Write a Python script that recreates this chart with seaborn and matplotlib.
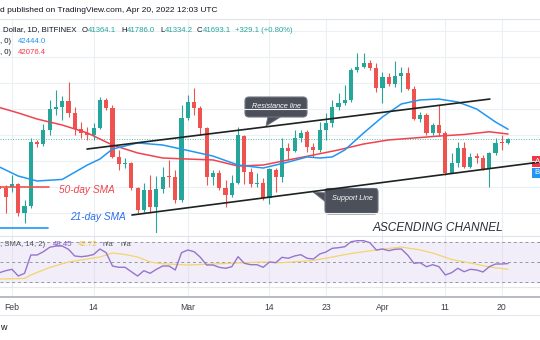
import numpy as np
import pandas as pd
import matplotlib
matplotlib.use("Agg")
import matplotlib.pyplot as plt
import seaborn as sns
from matplotlib import transforms
from matplotlib.patches import FancyBboxPatch, Polygon, Rectangle
from matplotlib.lines import Line2D

# ---------------- data (BTC/USD daily, Bitfinex) ----------------
# bar index: 1 = Feb 1 ... 29 = Mar 1 ... 60 = Apr 1 ... 80 = last bar
days = list(range(-1, 81))
opens = [38070, 37920, 37990, 38230, 36000, 36530, 41460, 41310, 42390, 44000,
         44160, 44620, 43700, 42460, 42160, 42000, 42540, 44700, 44080, 40310,
         39770, 39850, 37920, 36230, 37770, 36460, 37840, 38840, 38770, 37000,
         43310, 44540, 44080, 42540, 38770, 39080, 37920, 37380, 38310, 41920,
         39150, 38230, 38310, 37150, 39310, 38770, 41000, 40770, 41770, 42230,
         41080, 40850, 42390, 42930, 44160, 44470, 44700, 47010, 47240, 47550,
         47160, 45620, 46470, 45930, 46540, 46780, 45540, 43230, 43540, 42160,
         42770, 42160, 39080, 39850, 41000, 39540, 40380, 40230, 39380, 40620,
         41460, 41364.1]
highs = [38380, 38150, 38920, 38310, 37000, 41770, 41620, 42850, 44700, 45470,
         45000, 46080, 44160, 43000, 42620, 42930, 44930, 44850, 44310, 40850,
         40230, 39920, 38000, 38310, 38920, 38840, 39540, 40080, 39310, 44310,
         45080, 45620, 44230, 42620, 39310, 39310, 38540, 38920, 42620, 42000,
         39460, 39080, 38690, 39460, 39460, 41770, 41390, 42390, 42390, 42390,
         41390, 43000, 43700, 44700, 45240, 45850, 47160, 48320, 48320, 47780,
         47550, 46850, 46780, 47700, 47240, 47240, 45770, 43770, 43700, 42930,
         44310, 42310, 40620, 41460, 41460, 40620, 40620, 40460, 40690, 41770,
         42000, 41786.0]
lows = [37380, 36000, 37610, 35760, 35230, 36380, 41080, 41150, 42000, 43540,
        43160, 43390, 42000, 41770, 41620, 41620, 42460, 43930, 40230, 39310,
        39460, 37770, 36000, 36070, 36000, 34460, 37540, 38000, 36770, 36840,
        43160, 43540, 42000, 38150, 38150, 37770, 36460, 37230, 38230, 38230,
        38000, 38000, 37000, 36690, 37610, 38380, 40080, 40690, 41460, 40690,
        40310, 40690, 41620, 42620, 43930, 44310, 44540, 46850, 47160, 47010,
        45310, 44470, 45770, 45700, 45310, 45470, 43160, 43000, 42000, 42000,
        41920, 38920, 39080, 39540, 39460, 39460, 39850, 39310, 38000, 40460,
        40850, 41334.2]
closes = [37840, 37230, 38230, 36000, 36530, 41460, 41310, 42390, 44000, 44160,
          44620, 43700, 42460, 42160, 42000, 42540, 44700, 44080, 40310, 39770,
          39850, 37920, 36230, 37770, 36460, 37840, 38770, 38770, 37000, 43310,
          44540, 44080, 42540, 38770, 39080, 37920, 37380, 38310, 42000, 39150,
          38230, 38310, 37150, 39380, 38770, 41000, 40770, 41770, 42160, 41080,
          40850, 42390, 42930, 44160, 44470, 44700, 47010, 47240, 47550, 47160,
          45620, 46470, 45930, 46540, 46780, 45540, 43230, 43540, 42160, 42770,
          42160, 39080, 39850, 41000, 39540, 40310, 40230, 39380, 40620, 41390,
          41364.1, 41693.1]
last_close = 41693.1

# moving averages, read at selected bars
sma21_days = [-1, 2, 5, 9, 13, 15, 17, 21, 25, 29, 33, 37, 41, 45, 48, 50, 52,
              54, 57, 60, 63, 66, 69, 72, 75, 78, 80]
sma21 = [39540, 38840, 38460, 38580, 39690, 40150, 40920, 41390, 41230, 40810,
         40380, 39690, 39460, 39920, 40310, 40230, 40310, 40850, 42160, 43390,
         44390, 44700, 44770, 44540, 44000, 43000, 42444.0]
sma50_days = [-1, 2, 5, 9, 13, 17, 21, 25, 29, 33, 37, 41, 45, 49, 53, 57, 61,
              65, 69, 73, 77, 80]
sma50 = [44120, 43700, 43230, 42770, 42160, 41230, 40620, 40230, 40150, 40080,
         39610, 39690, 40080, 40460, 40850, 41310, 41620, 41770, 41920, 42040,
         42250, 42076.4]

# RSI (14) per bar and its SMA (14)
rsi = [39.3, 41.3, 42.7, 36.0, 38.7, 57.0, 57.0, 60.3, 64.7, 66.0, 66.0, 62.7,
       56.0, 55.3, 56.0, 57.5, 63.0, 59.3, 46.0, 44.7, 44.7, 40.3, 36.0, 41.3,
       38.7, 42.7, 46.0, 46.0, 42.0, 59.3, 62.0, 60.3, 54.7, 47.0, 47.0, 44.7,
       43.7, 45.3, 55.3, 48.7, 47.3, 47.3, 44.7, 50.0, 49.3, 54.7, 53.7, 56.0,
       57.3, 53.7, 53.0, 58.0, 60.0, 63.7, 64.3, 65.3, 70.3, 71.3, 71.3, 69.3,
       62.0, 63.0, 61.3, 62.7, 63.0, 57.0, 48.7, 49.3, 45.3, 47.3, 45.3, 37.0,
       39.3, 43.7, 40.3, 42.7, 42.0, 40.0, 45.3, 48.0, 48.0, 48.45]
rsi_sma_days = [-1, 3, 4, 7, 10, 13, 15, 17, 19, 21, 23, 25, 29, 33, 37, 41,
                44, 49, 55, 59, 63, 66, 68, 71, 74, 77, 80]
rsi_sma = [33.0, 33.5, 37.0, 44.5, 50.0, 53.0, 55.0, 59.0, 57.5, 55.0, 50.0,
           48.2, 47.0, 48.0, 49.0, 50.0, 49.3, 51.5, 58.5, 62.0, 65.0, 62.0,
           59.0, 52.5, 49.0, 45.0, 42.72]

# drawn channel (bar index, price)
res_days, res_price = [12.95, 77.1], [40920, 44770]
sup_days, sup_price = [20.1, 85.1], [35840, 39920]

tick_days = [1, 14, 29, 42, 51, 60, 70, 79]
tick_labels = ["Feb", "14", "Mar", "14", "23", "Apr", "11", "20"]

# ---------------- figure ----------------
sns.set_theme(style="white")
plt.rcParams["font.family"] = ["Liberation Sans", "DejaVu Sans"]

W, H = 540, 340
fig = plt.figure(figsize=(W / 100, H / 100), dpi=100)
fig.patch.set_facecolor("white")
# pixel coordinates with origin at the top-left corner
PX = transforms.Affine2D().scale(1 / 100, -1 / 100).translate(0, H / 100) + fig.dpi_scale_trans


def fy(py):
    return 1 - py / H


X0, X1 = -0.908, 85.08
GREEN, RED = "#26a69a", "#ef5350"
BLUE = "#2196f3"
GRID = "#eceff4"
DARK = "#131722"

ax_bg = fig.add_axes([0, fy(297), 1, (297 - 19) / H], zorder=0)
ax = fig.add_axes([0, fy(233), 1, (233 - 19) / H], zorder=1)
ax_r = fig.add_axes([0, fy(287), 1, (287 - 237) / H], zorder=1)
for a in (ax_bg, ax, ax_r):
    a.set_xlim(X0, X1)
    a.set_facecolor("none")
    a.set_xticks([])
    a.set_yticks([])
    for s in a.spines.values():
        s.set_visible(False)
ax_bg.set_facecolor("white")
ax.set_ylim(34455, 50933)
ax_r.set_ylim(25, 75)

for d in tick_days:
    ax_bg.axvline(d, color=GRID, lw=0.8)
for p in range(36000, 52000, 2000):
    ax.axhline(p, color=GRID, lw=0.8, zorder=0)

# candles
df = pd.DataFrame(dict(day=days, open=opens, high=highs, low=lows, close=closes))
cols = np.where(df["close"] >= df["open"], GREEN, RED)
ax.vlines(df["day"], df["low"], df["high"], colors=cols, lw=0.8, zorder=3)
body_lo = np.minimum(df["open"], df["close"])
body_h = np.maximum(np.abs(df["close"] - df["open"]), 80)
ax.bar(df["day"], body_h, bottom=body_lo, width=0.66, color=cols, lw=0, zorder=4)

ax.axhline(last_close, color=GREEN, lw=0.7, ls=(0, (1, 1.6)), alpha=0.8, zorder=2)

sns.lineplot(x=sma50_days, y=sma50, ax=ax, color="#f0434f", lw=1.1,
             estimator=None, zorder=5)
sns.lineplot(x=sma21_days, y=sma21, ax=ax, color=BLUE, lw=1.1,
             estimator=None, zorder=5)

ax.plot(res_days, res_price, color="#1d2321", lw=1.2, zorder=6)
ax.plot(sup_days, sup_price, color="#1d2321", lw=1.2, zorder=6)
ax.plot([X0, 6.9], [37997, 37997], color=RED, lw=1.2, zorder=6)
ax.plot([X0, 6.7], [34840, 34840], color=BLUE, lw=1.2, zorder=6)
for a in (ax, ax_r):
    a.set_xlabel("")
    a.set_ylabel("")

# RSI pane
ax_r.axhspan(30, 70, color="#f2eef9", zorder=0)
for d in tick_days:
    ax_r.axvline(d, color="#e6e3ee", lw=0.8, zorder=1)
for lv in (70, 50, 30):
    ax_r.axhline(lv, color="#9598a1", lw=0.7, ls=(0, (3, 3)), zorder=2)
sns.lineplot(x=rsi_sma_days, y=rsi_sma, ax=ax_r, color="#f4d46c", lw=0.9,
             estimator=None, zorder=3)
sns.lineplot(x=days, y=rsi, ax=ax_r, color="#9575cd", lw=1.0,
             estimator=None, zorder=4)
ax_r.set_xlabel("")
ax_r.set_ylabel("")

# frame lines
for yy, c, w in [(19, "#e0e3eb", 0.8), (236, "#e0e3eb", 0.8), (287, "#e6e8ee", 0.8),
                 (297, "#b2b5be", 1.3), (315, "#e6e8ee", 0.8)]:
    fig.add_artist(Line2D([0, W], [yy, yy], transform=PX, color=c, lw=w))

# date labels
blend = transforms.blended_transform_factory(ax.transData, PX)
for d, lab in zip(tick_days, tick_labels):
    fig.text(d, 307, lab, transform=blend, ha="center", va="center",
             fontsize=6.2, color="#3b3e47")

# header and legends
fig.text(0.5, 10, "d published on TradingView.com, Apr 20, 2022 12:03 UTC",
         transform=PX, ha="left", va="center", fontsize=6.0, color=DARK)
fig.text(3, 30, "Dollar, 1D, BITFINEX", transform=PX, ha="left", va="center",
         fontsize=5.6, color=DARK)
for x0, k, v in [(82, "O", "41364.1"), (121, "H", "41786.0"),
                 (160, "L", "41334.2"), (197, "C", "41693.1")]:
    fig.text(x0, 30, k, transform=PX, ha="left", va="center", fontsize=5.6, color=DARK)
    off = {"O": 6, "H": 5.6, "L": 4.4, "C": 5.6}[k]
    fig.text(x0 + off, 30, v, transform=PX, ha="left", va="center",
             fontsize=5.6, color=GREEN)
fig.text(235, 30, "+329.1 (+0.80%)", transform=PX, ha="left", va="center",
         fontsize=5.6, color=GREEN)
fig.text(0.5, 41.5, ", 0)", transform=PX, ha="left", va="center", fontsize=5.6, color=DARK)
fig.text(18, 41.5, "42444.0", transform=PX, ha="left", va="center", fontsize=5.6, color=BLUE)
fig.text(0.5, 53, ", 0)", transform=PX, ha="left", va="center", fontsize=5.6, color=DARK)
fig.text(18, 53, "42076.4", transform=PX, ha="left", va="center", fontsize=5.6, color="#f23645")

fig.text(0.5, 245, ", SMA, 14, 2)", transform=PX, ha="left", va="center", fontsize=5.6, color="#50535e")
fig.text(53, 245, "48.45", transform=PX, ha="left", va="center", fontsize=5.6, color="#7e57c2")
fig.text(78, 245, "42.72", transform=PX, ha="left", va="center", fontsize=5.6, color="#e8c547")
fig.text(103, 245, "n/a", transform=PX, ha="left", va="center", fontsize=5.6, color="#50535e")
fig.text(121, 245, "n/a", transform=PX, ha="left", va="center", fontsize=5.6, color="#50535e")

# SMA labels and channel title
fig.text(59, 190, "50-day SMA", transform=PX, ha="left", va="center",
         fontsize=7.3, style="italic", color="#f0434f")
fig.text(70, 217, "21-day SMA", transform=PX, ha="left", va="center",
         fontsize=7.3, style="italic", color="#2f6fe8")
fig.text(373, 228, "ASCENDING CHANNEL", transform=PX, ha="left", va="center",
         fontsize=8.6, style="italic", color="#2a2e39")

# callouts
BOX_FC, BOX_EC = "#4b505b", "#70757f"
fig.add_artist(Polygon([(266, 126), (268, 116), (282, 116)], closed=True,
                       transform=PX, fc=BOX_FC, ec=BOX_EC, lw=0.6))
fig.add_artist(FancyBboxPatch((245, 97), 62, 20, boxstyle="round,pad=0,rounding_size=4",
                              transform=PX, fc=BOX_FC, ec=BOX_EC, lw=0.8))
fig.text(276, 107, "Resistance line", transform=PX, ha="center", va="center",
         fontsize=5.2, style="italic", color="white")
fig.add_artist(Polygon([(313, 192), (327, 193), (327, 203)], closed=True,
                       transform=PX, fc=BOX_FC, ec=BOX_EC, lw=0.6))
fig.add_artist(FancyBboxPatch((325, 188), 53, 26, boxstyle="round,pad=0,rounding_size=4",
                              transform=PX, fc=BOX_FC, ec=BOX_EC, lw=0.8))
fig.text(352, 198, "Support Line", transform=PX, ha="center", va="center",
         fontsize=5.2, style="italic", color="white")

# price-scale tags at the right edge
fig.add_artist(Rectangle((532, 156), 10, 11, transform=PX, fc="#f23645", ec="none"))
fig.add_artist(Rectangle((532, 168), 10, 10, transform=PX, fc="#2196f3", ec="none"))
fig.text(534.5, 161.5, "A", transform=PX, ha="left", va="center", fontsize=5.6, color="white")
fig.text(534.5, 173, "B", transform=PX, ha="left", va="center", fontsize=5.6, color="white")

fig.text(0.5, 328, "w", transform=PX, ha="left", va="center", fontsize=6.5, color=DARK)

fig.savefig("out.png", dpi=100)
